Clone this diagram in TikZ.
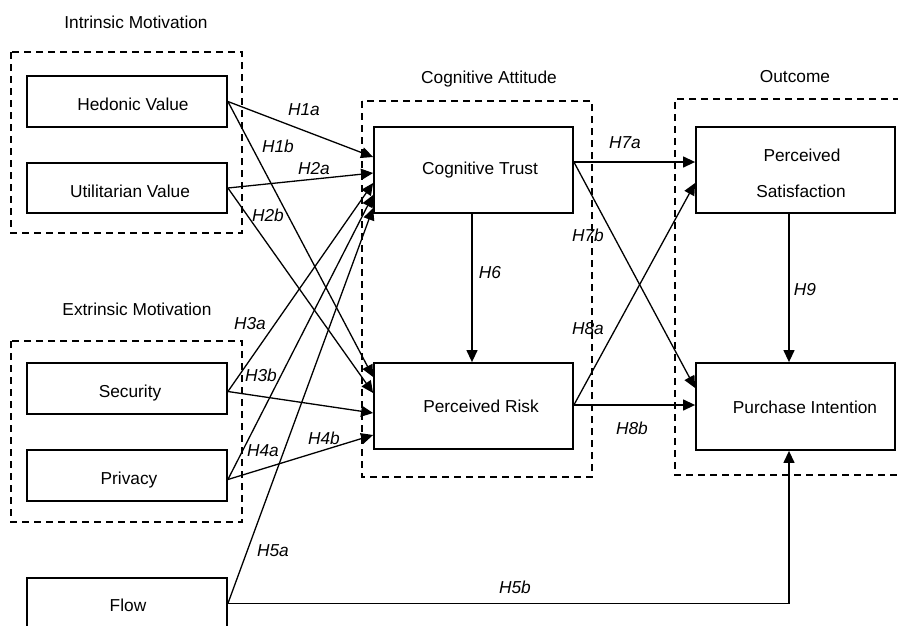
\documentclass[tikz,border=0pt]{standalone}
\usepackage{fontspec}
\setmainfont{Liberation Sans}
\usetikzlibrary{arrows.meta}
\begin{document}
\begin{tikzpicture}[x=1pt,y=-1pt,
  font=\fontsize{17.3}{20}\selectfont,
  box/.style={draw,line width=1.8pt,minimum width=200pt,minimum height=51pt,inner sep=0pt},
  tallbox/.style={box,minimum width=199pt,minimum height=86pt},
  group/.style={draw,line width=1.6pt,dash pattern=on 7pt off 5pt},
  txt/.style={anchor=base,inner sep=0pt},
  lab/.style={anchor=base,inner sep=0pt,font=\fontsize{17.3}{20}\selectfont\itshape},
  conn/.style={line width=1.3pt,-{Triangle[length=12pt,width=11pt]}},
  plain/.style={line width=1.3pt}]
\useasboundingbox (0,0) rectangle (898,625);

% groups
\draw[group] (11,52) rectangle (242,233);
\draw[group] (11,341) rectangle (242,522);
\draw[group] (362,101) rectangle (592,477);
\draw[group] (900,99) -| (675,475) -- (900,475);

\node[txt] (gint) at (136,28) {Intrinsic Motivation};
\node[txt] (gext) at (137,315) {Extrinsic Motivation};
\node[txt] (gcog) at (489,83) {Cognitive Attitude};
\node[txt] (gout) at (795,82) {Outcome};

% boxes
\node[box] (hed) at (127,101.5) {};
\node[box,minimum height=50pt] (util) at (127,188) {};
\node[box] (sec) at (127,388.5) {};
\node[box] (priv) at (127,475.5) {};
\node[box] (flow) at (127,603.5) {};
\node[tallbox] (ct) at (473.5,170) {};
\node[tallbox] (pr) at (473.5,406) {};
\node[tallbox] (ps) at (795.5,170) {};
\node[tallbox,minimum height=87pt] (pi) at (795.5,406.5) {};

% box texts
\node[txt] (thed) at (133,110) {Hedonic Value};
\node[txt] (tutil) at (130,197) {Utilitarian Value};
\node[txt] (tsec) at (130,397) {Security};
\node[txt] (tpriv) at (129,484) {Privacy};
\node[txt] (tflow) at (128,611) {Flow};
\node[txt] (tct) at (480,174) {Cognitive Trust};
\node[txt] (tpr) at (481,412) {Perceived Risk};
\node[txt] (tps1) at (802,161) {Perceived};
\node[txt] (tps2) at (801,197) {Satisfaction};
\node[txt] (tpi) at (805,413) {Purchase Intention};

% connectors
\draw[conn] (hed.east) -- (ct.west |- 0,157);
\draw[conn] (hed.east) -- (pr.west |- 0,377);
\draw[conn] (util.east) -- (ct.west |- 0,173);
\draw[conn] (util.east) -- (pr.west |- 0,393);
\draw[conn] ([yshift=-3pt]sec.east) -- (ct.west |- 0,183);
\draw[conn] ([yshift=-3pt]sec.east) -- (pr.west |- 0,413);
\draw[conn] ([yshift=-4pt]priv.east) -- (ct.west |- 0,195);
\draw[conn] ([yshift=-4pt]priv.east) -- (pr.west |- 0,435);
\draw[conn] (flow.east) -- (ct.west |- 0,208);
\draw[conn] (flow.east) -| ([xshift=-6.5pt]pi.south);
\draw[conn] ([xshift=-1.5pt]ct.south) -- ([xshift=-1.5pt]pr.north);
\draw[conn] (ct.east |- 0,162) -- (ps.west |- 0,162);
\draw[conn] (ct.east |- 0,162) -- (pi.west |- 0,388);
\draw[conn] (pr.east |- 0,405) -- (ps.west |- 0,183);
\draw[conn] (pr.east |- 0,405) -- (pi.west |- 0,405);
\draw[conn] ([xshift=-6.5pt]ps.south) -- ([xshift=-6.5pt]pi.north);

% labels
\node[lab] (l1a) at (304,115) {H1a};
\node[lab] (l1b) at (278,152) {H1b};
\node[lab] (l2a) at (314,174) {H2a};
\node[lab] (l2b) at (268,221) {H2b};
\node[lab] (l3a) at (250,329) {H3a};
\node[lab] (l3b) at (261,381) {H3b};
\node[lab] (l4a) at (263,456) {H4a};
\node[lab] (l4b) at (324,444) {H4b};
\node[lab] (l5a) at (273,556) {H5a};
\node[lab] (l5b) at (515,593) {H5b};
\node[lab] (l6) at (490,278) {H6};
\node[lab] (l7a) at (625,148) {H7a};
\node[lab] (l7b) at (588,241) {H7b};
\node[lab] (l8a) at (588,334) {H8a};
\node[lab] (l8b) at (632,434) {H8b};
\node[lab] (l9) at (805,295) {H9};
\end{tikzpicture}
\end{document}
